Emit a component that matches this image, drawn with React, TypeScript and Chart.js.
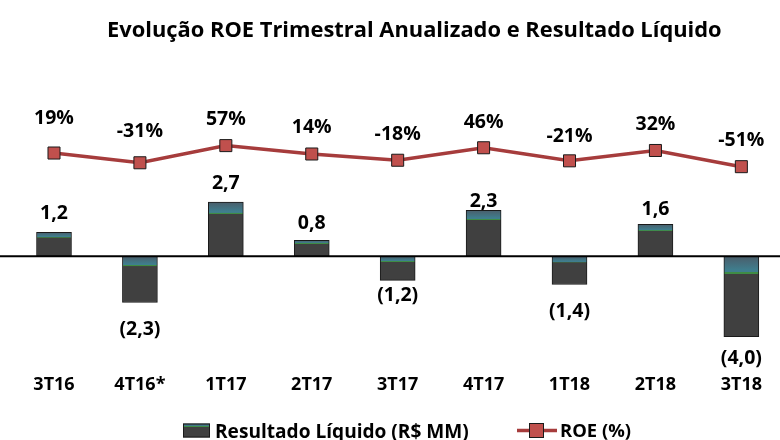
import { useEffect, useRef } from 'react';
import { Chart, registerables } from 'chart.js';

Chart.register(...registerables);

const title = 'Evolução ROE Trimestral Anualizado e Resultado Líquido';
const categories = ['3T16', '4T16*', '1T17', '2T17', '3T17', '4T17', '1T18', '2T18', '3T18'];
const netIncome = [1.2, -2.3, 2.7, 0.8, -1.2, 2.3, -1.4, 1.6, -4.0];
const netIncomeLabels = ['1,2', '(2,3)', '2,7', '0,8', '(1,2)', '2,3', '(1,4)', '1,6', '(4,0)'];
const roe = [19, -31, 57, 14, -18, 46, -21, 32, -51];
const roeLabels = ['19%', '-31%', '57%', '14%', '-18%', '46%', '-21%', '32%', '-51%'];
const barSeriesName = 'Resultado Líquido (R$ MM)';
const lineSeriesName = 'ROE (%)';

// label gaps (style): distance from bar end / marker centre to label centre
const barLabelGap = [20.5, 25.5, 20.3, 18.7, 13.3, 10, 25.7, 15.8, 20.3];
const roeLabelGap = [35.5, 33, 27.8, 28.2, 27.2, 27, 25.3, 27.5, 27.3];

const FONT = '"Open Sans", Lato, sans-serif';
const LINE_COLOR = '#a63c3c';
const MARKER_FILL = '#c0504d';

function barGradient(c: CanvasRenderingContext2D, top: number, bottom: number) {
  const g = c.createLinearGradient(0, top, 0, bottom);
  g.addColorStop(0, '#4a5d6a');
  g.addColorStop(0.17, '#3f7e8e');
  g.addColorStop(0.19, '#3f7e8e');
  g.addColorStop(0.195, '#3f8c45');
  g.addColorStop(0.215, '#3f8c45');
  g.addColorStop(0.22, '#404040');
  g.addColorStop(1, '#404040');
  return g;
}

function capText(c: CanvasRenderingContext2D, text: string, x: number, capCenter: number, size: number, align: CanvasTextAlign) {
  c.font = `bold ${size}px ${FONT}`;
  c.fillStyle = '#000';
  c.textAlign = align;
  c.textBaseline = 'alphabetic';
  c.fillText(text, x, capCenter + size * 0.714 / 2);
}

function fitText(c: CanvasRenderingContext2D, text: string, left: number, right: number, capCenter: number) {
  c.font = `bold 100px ${FONT}`;
  const w = c.measureText(text).width;
  const size = (100 * (right - left)) / w;
  capText(c, text, left, capCenter, size, 'left');
}

const decorPlugin = {
  id: 'decor',
  afterDatasetsDraw(chart: any) {
    const c: CanvasRenderingContext2D = chart.ctx;
    const ys = chart.scales.y;
    const y0 = ys.getPixelForValue(0);
    c.save();
    // zero line
    c.strokeStyle = '#000';
    c.lineWidth = 2;
    c.beginPath();
    c.moveTo(0, y0);
    c.lineTo(chart.width, y0);
    c.stroke();

    // bar labels
    const barMeta = chart.getDatasetMeta(0);
    barMeta.data.forEach((el: any, i: number) => {
      const v = netIncome[i];
      const yc = v >= 0 ? el.y - barLabelGap[i] : el.y + barLabelGap[i];
      capText(c, netIncomeLabels[i], el.x, yc, 19.5, 'center');
    });
    // roe labels
    const lineMeta = chart.getDatasetMeta(1);
    lineMeta.data.forEach((el: any, i: number) => {
      capText(c, roeLabels[i], el.x, el.y - roeLabelGap[i], 19.5, 'center');
    });

    // title
    fitText(c, title, 107, 722, 29.2);

    // legend
    const lx = 183, ly = 423.5, lw = 27, lh = 14;
    c.fillStyle = barGradient(c, ly, ly + lh);
    c.fillRect(lx, ly, lw, lh);
    c.strokeStyle = '#1a1a1a';
    c.lineWidth = 1;
    c.strokeRect(lx + 0.5, ly + 0.5, lw - 1, lh - 1);
    fitText(c, barSeriesName, 215, 469, 430.8);

    c.strokeStyle = LINE_COLOR;
    c.lineWidth = 3.5;
    c.beginPath();
    c.moveTo(517, 430.5);
    c.lineTo(557, 430.5);
    c.stroke();
    c.fillStyle = MARKER_FILL;
    c.fillRect(529.5, 423.5, 14, 14);
    c.strokeStyle = '#1a1a1a';
    c.lineWidth = 1;
    c.strokeRect(529.5, 423.5, 14, 14);
    fitText(c, lineSeriesName, 560, 631, 430.8);
    c.restore();
  },
};

export default function App() {
  const ref = useRef<HTMLCanvasElement | null>(null);
  useEffect(() => {
    if (!ref.current) return;
    const chart = new Chart(ref.current, {
      type: 'bar',
      data: {
        labels: categories,
        datasets: [
          {
            type: 'bar',
            label: barSeriesName,
            data: netIncome,
            yAxisID: 'y',
            order: 2,
            barThickness: 35,
            borderWidth: 1,
            borderColor: '#1a1a1a',
            borderSkipped: false,
            clip: false as any,
            backgroundColor: (ctx: any) => {
              const chart = ctx.chart;
              const ys = chart.scales?.y;
              if (!ys || ctx.raw === undefined) return '#404040';
              const a = ys.getPixelForValue(0);
              const b = ys.getPixelForValue(ctx.raw);
              if (!Number.isFinite(a) || !Number.isFinite(b) || a === b) return '#404040';
              return barGradient(chart.ctx, Math.min(a, b), Math.max(a, b));
            },
          },
          {
            type: 'line',
            label: lineSeriesName,
            data: roe,
            yAxisID: 'y2',
            order: 1,
            borderColor: LINE_COLOR,
            borderWidth: 3.5,
            pointStyle: 'rect',
            pointRadius: 8.5,
            pointBackgroundColor: MARKER_FILL,
            pointBorderColor: '#1a1a1a',
            pointBorderWidth: 1,
            tension: 0,
            clip: false as any,
          },
        ],
      },
      options: {
        animation: false,
        responsive: true,
        maintainAspectRatio: false,
        layout: { padding: { left: 54, right: 31, top: 60, bottom: 26.4 } },
        plugins: {
          legend: { display: false },
          tooltip: { enabled: false },
          title: { display: false },
        },
        scales: {
          x: {
            offset: false,
            grid: { display: false, drawTicks: false, tickLength: 0 },
            border: { display: false },
            ticks: {
              padding: 18,
              color: '#000',
              font: { family: FONT, size: 18, weight: 'bold' },
              maxRotation: 0,
              autoSkip: false,
            },
          },
          y: {
            display: false,
            min: -4.965,
            max: 9.785,
          },
          y2: {
            display: false,
            position: 'right',
            min: -1021.6,
            max: 495.9,
          },
        },
      },
      plugins: [decorPlugin],
    });
    return () => chart.destroy();
  }, []);
  return (
    <div style={{ position: 'absolute', left: 0, top: 0, width: 780, height: 440, background: '#fff' }}>
      <canvas ref={ref} />
    </div>
  );
}
